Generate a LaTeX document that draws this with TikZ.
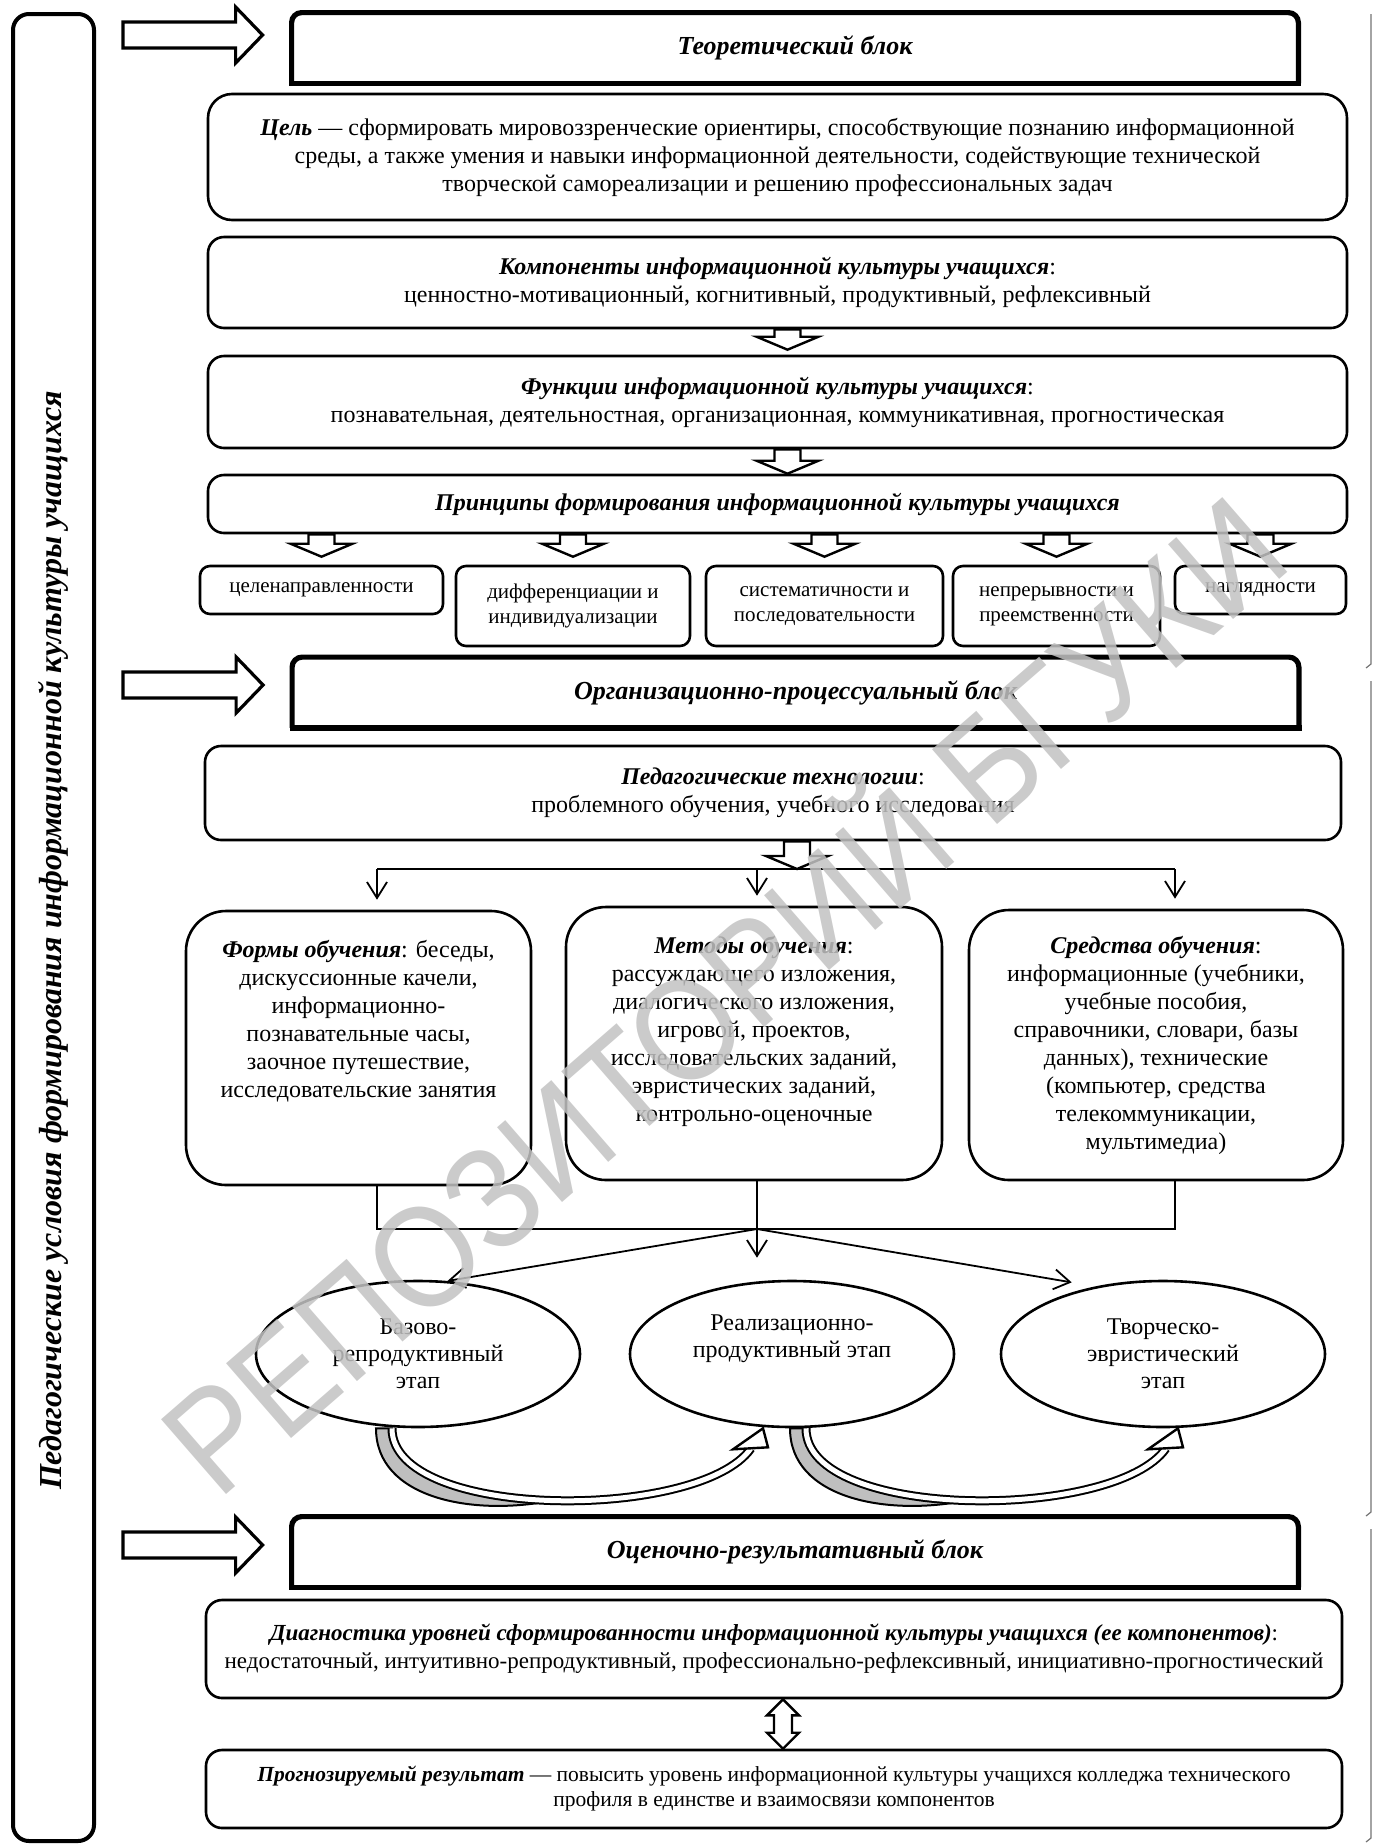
\documentclass[tikz,border=0pt]{standalone}
\usepackage{fontspec}
\setmainfont{Liberation Serif}
\setsansfont{Liberation Sans}
\usetikzlibrary{calc,shapes.geometric,arrows.meta}

\newcommand{\bfit}[1]{\textbf{\textit{#1}}}
\newcommand{\hollowdown}[2]{\draw[hollow] let \p1=#1, \p2=#2 in
  (\x1-6.5pt,\y1) -- (\x1-6.5pt,\y2+6.5pt) -- (\x1-15.5pt,\y2+6.5pt) -- (\x1,\y2)
  -- (\x1+15.5pt,\y2+6.5pt) -- (\x1+6.5pt,\y2+6.5pt) -- (\x1+6.5pt,\y1) -- cycle;}
\newcommand{\hollowright}[2]{\draw[hollow,line width=1.6pt] let \p1=#1, \p2=#2 in
  (\x1,\y1+6.5pt) -- (\x2-13.5pt,\y1+6.5pt) -- (\x2-13.5pt,\y1+14pt) -- (\x2,\y1)
  -- (\x2-13.5pt,\y1-14pt) -- (\x2-13.5pt,\y1-6.5pt) -- (\x1,\y1-6.5pt) -- cycle;}
\newcommand{\hollowboth}[2]{\draw[hollow] let \p1=#1, \p2=#2 in
  (\x1,\y1) -- (\x1+8pt,\y1-8pt) -- (\x1+4.5pt,\y1-8pt) -- (\x1+4.5pt,\y2+8pt) -- (\x1+8pt,\y2+8pt)
  -- (\x1,\y2) -- (\x1-8pt,\y2+8pt) -- (\x1-4.5pt,\y2+8pt) -- (\x1-4.5pt,\y1-8pt) -- (\x1-8pt,\y1-8pt) -- cycle;}
\newcommand{\stagearrow}[2]{%
  \draw[fill=black!25,line width=1pt] ($#1+(-8pt,0)$) .. controls +(0,-35pt) and +(-40pt,-8pt) .. ($#1+(80.2pt,-36.1pt)$)
    .. controls ($#1+(38.5pt,-34.9pt)$) and ($#1+(0,-23.25pt)$) .. #1 -- cycle;
  \draw[line width=4.5pt] #1 .. controls +(0,-46.5pt) and +(-25.5pt,-36.5pt) .. #2;
  \draw[line width=2.5pt,white] #1 .. controls +(0,-46.5pt) and +(-25.5pt,-36.5pt) .. #2;
  \draw[hollow] ($#2+(-9pt,-0.5pt)$) -- ($#2+(6pt,10pt)$) -- ($#2+(8.5pt,0.5pt)$) -- cycle;}

\begin{document}
\begin{tikzpicture}[x=0.5pt,y=-0.5pt,
    panel/.style={draw,line width=1.3pt,rounded corners=8pt,inner sep=0pt,align=center,font=\fontsize{12}{14}\selectfont},
    item/.style={panel,rounded corners=5pt,font=\fontsize{10.5}{12.5}\selectfont},
    copy/.style={inner sep=0pt,align=center,anchor=north,font=\fontsize{12}{14}\selectfont},
    blocktitle/.style={minimum width=503pt,minimum height=35pt,inner sep=0pt,font=\fontsize{13}{15}\selectfont\bfseries\itshape},
    blockhead/.style={line width=2.6pt,rounded corners=5pt},
    hollow/.style={draw,fill=white,line width=1.2pt,line join=miter},
    link/.style={line width=1pt},
    barb/.style={line width=0.9pt,-{Straight Barb[length=8pt,width=10pt]}},
    stage/.style={ellipse,draw,line width=1.3pt,minimum width=162pt,minimum height=73pt,inner sep=0pt,align=center,font=\fontsize{12}{13.5}\selectfont}
    ]
\useasboundingbox (0,0) rectangle (1375,1848);

\node[draw,line width=2pt,rounded corners=8pt,rotate=90,minimum width=913.5pt,minimum height=40.5pt,inner sep=0pt] (cond) at (53.5,927.5) {};
\node[rotate=90,inner sep=0pt,font=\fontsize{16}{18}\selectfont\bfseries\itshape] (condtext) at ([yshift=-6.5pt]cond.center)
      {Педагогические условия формирования информационной культуры учащихся};

\node[blocktitle] (theory) at (795,48) {Теоретический блок};
\node[blocktitle] (process) at (795.5,692.5) {Организационно-процессуальный блок};
\node[blocktitle] (result) at (795,1552) {Оценочно-результативный блок};
\foreach \h in {theory,process,result}{
  \draw[blockhead] (\h.south west) -- (\h.north west) -- (\h.north east) -- (\h.south east);
  \draw[line width=2.6pt,line cap=rect] (\h.south west) -- (\h.south east);
}
\hollowright{([xshift=13.5pt,yshift=6.5pt]cond.south |- theory.west)}{([xshift=-14.5pt,yshift=6.5pt]theory.west)}
\hollowright{([xshift=13.5pt,yshift=3.75pt]cond.south |- process.west)}{([xshift=-14.5pt,yshift=3.75pt]process.west)}
\hollowright{([xshift=13.5pt,yshift=3.5pt]cond.south |- result.west)}{([xshift=-14.5pt,yshift=3.5pt]result.west)}

\node[panel,rounded corners=12pt,minimum width=569.5pt,minimum height=63pt] (goal) at (777.5,157)
  {\bfit{Цель} — сформировать мировоззренческие ориентиры, способствующие познанию информационной\\
   среды, а также умения и навыки информационной деятельности, содействующие технической\\
   творческой самореализации и решению профессиональных задач};
\node[panel,minimum width=569.5pt,minimum height=45.5pt] (comp) at (777.5,282.5)
  {\bfit{Компоненты информационной культуры учащихся}:\\
   ценностно-мотивационный, когнитивный, продуктивный, рефлексивный};
\node[panel,minimum width=569.5pt,minimum height=46pt] (func) at (777.5,402)
  {\bfit{Функции информационной культуры учащихся}:\\
   познавательная, деятельностная, организационная, коммуникативная, прогностическая};
\node[panel,minimum width=569.5pt,minimum height=29pt] (princ) at (777.5,504)
  {\bfit{Принципы формирования информационной культуры учащихся}};
\hollowdown{([xshift=5pt]comp.south)}{([yshift=2.5pt]func.north)}
\hollowdown{([xshift=5pt]func.south)}{(princ.north)}

\node[item,minimum width=121.5pt,minimum height=24pt] (p1) at (321.5,590) {целенаправленности};
\node[item,minimum width=117pt,minimum height=40pt] (p2) at (573,606) {дифференциации и\\ индивидуализации};
\node[item,minimum width=118.5pt,minimum height=40pt] (p3) at (824.5,606) {систематичности и\\ последовательности};
\node[item,minimum width=103.5pt,minimum height=40pt] (p4) at (1056.5,606) {непрерывности и\\ преемственности};
\node[item,minimum width=85.5pt,minimum height=24pt] (p5) at (1260.5,590) {наглядности};
\foreach \k in {p1,p2,p3,p4,p5}{\hollowdown{(princ.south -| \k.north)}{([yshift=4pt]\k.north)}}

\node[panel,minimum width=568pt,minimum height=47pt] (tech) at (773,793)
  {\bfit{Педагогические технологии}:\\ проблемного обучения, учебного исследования};

\node[panel,rounded corners=20pt,minimum width=172.5pt,minimum height=137pt] (forms) at (358.5,1048) {};
\node[panel,rounded corners=20pt,minimum width=188pt,minimum height=136.5pt] (methods) at (754,1043.5) {};
\node[panel,rounded corners=20pt,minimum width=187pt,minimum height=135pt] (means) at (1156,1045) {};
\node[copy] (formstext) at ([yshift=-15pt]forms.north)
  {\bfit{Формы обучения}: беседы,\\ дискуссионные качели,\\ информационно-\\ познавательные часы,\\ заочное путешествие,\\ исследовательские занятия};
\node[copy] (methodstext) at ([yshift=-15pt]methods.north)
  {\bfit{Методы обучения}:\\ рассуждающего изложения,\\ диалогического изложения,\\ игровой, проектов,\\ исследовательских заданий,\\ эвристических заданий,\\ контрольно-оценочные};
\node[copy] (meanstext) at ([yshift=-13.5pt]means.north)
  {\bfit{Средства обучения}:\\ информационные (учебники,\\ учебные пособия,\\ справочники, словари, базы\\ данных), технические\\ (компьютер, средства\\ телекоммуникации,\\ мультимедиа)};

\coordinate (b1) at (377,869);
\coordinate (b2) at (757,869);
\coordinate (b3) at (1175,869);
\hollowdown{([xshift=12pt]tech.south)}{(b2)}
\draw[link] (b1) -- (b3);
\foreach \b/\n in {b1/forms,b2/methods,b3/means}{\draw[barb,shorten >=5pt] (\b) -- (\b |- \n.north);}

\coordinate (j1) at (377,1229);
\coordinate (j2) at (757,1229);
\coordinate (j3) at (1175,1229);
\draw[link] (forms.south -| j1) -- (j1) -- (j3) -- (means.south -| j3);
\draw[link] (methods.south -| j2) -- (j2);

\node[stage] (base) at (418,1354) {Базово-\\ репродуктивный\\ этап};
\node[stage] (real) at (792,1354) {Реализационно-\\ продуктивный этап\\ \strut};
\node[stage] (creat) at (1163,1354) {Творческо-\\ эвристический\\ этап};
\draw[barb] (j2) -- (base.68);
\draw[barb,shorten >=11pt] (j2) -- (j2 |- real.north);
\draw[barb,shorten >=12pt] (j2) -- (creat.135);
\stagearrow{([xshift=-13pt]base.south)}{([xshift=-20.5pt,yshift=-10pt]real.south)}
\stagearrow{([xshift=7pt]real.south)}{([xshift=1.5pt,yshift=-10pt]creat.south)}

\node[panel,font=\fontsize{11.5}{14}\selectfont,minimum width=568pt,minimum height=49pt] (diag) at (774,1649)
  {\bfit{Диагностика уровней сформированности информационной культуры учащихся (ее компонентов)}:\\
   недостаточный, интуитивно-репродуктивный, профессионально-рефлексивный, инициативно-прогностический};
\node[panel,font=\fontsize{10.75}{12.5}\selectfont,minimum width=568pt,minimum height=39pt] (prog) at (774,1789)
  {\bfit{Прогнозируемый результат} — повысить уровень информационной культуры учащихся колледжа технического\\
   профиля в единстве и взаимосвязи компонентов};
\hollowboth{([xshift=4.5pt]diag.south)}{([xshift=4.5pt]prog.north)}

\foreach \a/\z in {14/664,681/1512,1529/1838}{\draw[black!55,line width=0.6pt] (1371,\a) -- (1371,\z) -- ++(-5,4);}

\node[rotate=41,xscale=0.9,font=\fontsize{72}{72}\selectfont\sffamily,text=black!24,opacity=0.85] (mark) at (715,985) {РЕПОЗИТОРИЙ БГУКИ};
\end{tikzpicture}
\end{document}
